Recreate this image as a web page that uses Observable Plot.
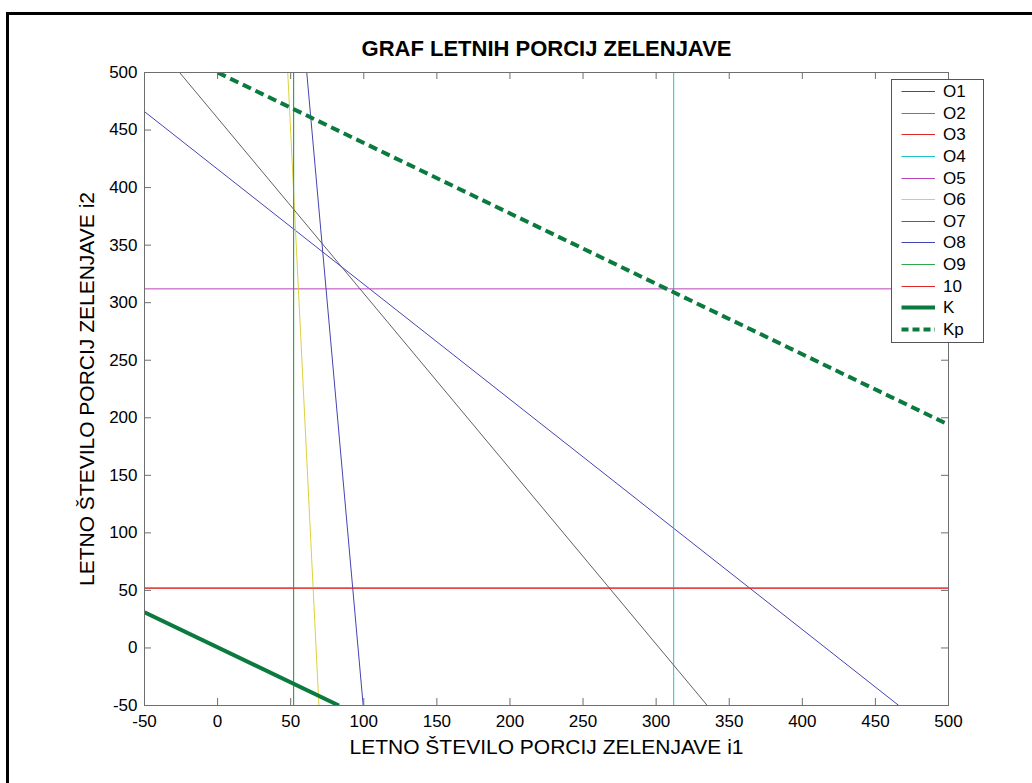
<!DOCTYPE html>
<html>
<head>
<meta charset="utf-8">
<script src="https://cdn.jsdelivr.net/npm/d3@7"></script>
<script src="https://cdn.jsdelivr.net/npm/@observablehq/plot@0.6"></script>
<style>
  html, body { margin: 0; padding: 0; background: white; overflow: hidden; }
  #wrap { position: relative; width: 1032px; height: 783px; }
  #frame { position: absolute; left: 6px; top: 12px; width: 1100px; height: 900px;
           border-top: 3px solid #000; border-left: 3px solid #000; pointer-events: none; }
  #legend { position: absolute; left: 891px; top: 79px; width: 91px; height: 262px;
            background: white; border: 1px solid #555; font-family: "Liberation Sans", Arial, sans-serif;
            font-size: 17px; color: #000; }
  .lrow { position: absolute; left: 0; height: 20px; width: 91px; }
  .lrow svg { position: absolute; left: 9px; top: 0; }
  .lrow span { position: absolute; left: 51px; top: 0; line-height: 21px; }
</style>
</head>
<body>
<div id="wrap">
  <div id="chart"></div>
  <div id="frame"></div>
  <div id="legend"></div>
</div>
<script>
// ---- data ----
const titleText = "GRAF LETNIH PORCIJ ZELENJAVE";
const xLabelText = "LETNO ŠTEVILO PORCIJ ZELENJAVE i1";
const yLabelText = "LETNO ŠTEVILO PORCIJ ZELENJAVE i2";

const lineNames = ["O1", "O2", "O3", "O4", "O5", "O6", "O7", "O8", "O9", "10", "K", "Kp"];
// each line given by two points (i1, i2)
const startI1 = [-50,  52, -50, 312, -50,  48, -26,  61,  52, -50, -50,   0];
const startI2 = [466, -50,  52, -50, 312, 500, 500, 500, -50,  52,  31, 500];
const endI1   = [466,  52, 500, 312, 500, 69.3, 335, 99.6, 52, 500,  83, 500];
const endI2   = [-50, 500,  52, 500, 312, -50, -50, -50, 500,  52, -50, 194];

const lineColors = ["#4444b4", "#2fa64a", "#e02828", "#1cc4cc", "#bb44bb", "#dcd23c",
                    "#606060", "#4444b4", "#2fa64a", "#e02828", "#0b7a3e", "#0b7a3e"];

const xTicks = [-50, 0, 50, 100, 150, 200, 250, 300, 350, 400, 450, 500];
const yTicks = [-50, 0, 50, 100, 150, 200, 250, 300, 350, 400, 450, 500];

// ---- build table ----
const rows = lineNames.map((name, i) => ({
  name, a1: startI1[i], b1: startI2[i], a2: endI1[i], b2: endI2[i], color: lineColors[i]
}));
const thin = rows.filter(d => d.name !== "K" && d.name !== "Kp");
const kRow = rows.filter(d => d.name === "K");
const kpRow = rows.filter(d => d.name === "Kp");

const W = 1032, H = 783;
const mL = 144, mR = 84, mT = 72, mB = 78;
const innerW = W - mL - mR, innerH = H - mT - mB;
const tick = 7;
const axisColor = "#6f6f6f";

const chart = Plot.plot({
  width: W,
  height: H,
  marginLeft: mL, marginRight: mR, marginTop: mT, marginBottom: mB,
  style: { fontFamily: "'Liberation Sans', Arial, sans-serif", fontSize: "17px", background: "white", color: "#000" },
  x: { domain: [-50, 500], label: null },
  y: { domain: [-50, 500], label: null },
  color: { type: "identity" },
  marks: [
    Plot.link(thin, { x1: "a1", y1: "b1", x2: "a2", y2: "b2", stroke: "color", strokeWidth: 1, clip: true }),
    Plot.link(kRow, { x1: "a1", y1: "b1", x2: "a2", y2: "b2", stroke: "color", strokeWidth: 4, clip: true }),
    Plot.link(kpRow, { x1: "a1", y1: "b1", x2: "a2", y2: "b2", stroke: "color", strokeWidth: 4, strokeDasharray: "9,5", clip: true }),
    Plot.frame({ stroke: axisColor, strokeWidth: 1 }),
    Plot.ruleX(xTicks, { stroke: axisColor, insetTop: innerH - tick }),
    Plot.ruleX(xTicks, { stroke: axisColor, insetBottom: innerH - tick }),
    Plot.ruleY(yTicks, { stroke: axisColor, insetRight: innerW - tick }),
    Plot.ruleY(yTicks, { stroke: axisColor, insetLeft: innerW - tick }),
    Plot.axisX(xTicks, { anchor: "bottom", tickSize: 0, tickPadding: 9, tickFormat: d => String(d), label: null, fill: "#000", fontSize: 17 }),
    Plot.axisY(yTicks, { anchor: "left", tickSize: 0, tickPadding: 7, tickFormat: d => String(d), label: null, fill: "#000", fontSize: 17 }),
    Plot.text([titleText], { text: d => d, frameAnchor: "top", dy: -24, lineAnchor: "middle", textAnchor: "middle", fontWeight: "bold", fontSize: 22, fill: "#000" }),
    Plot.text([xLabelText], { text: d => d, frameAnchor: "bottom", dy: 42, lineAnchor: "middle", textAnchor: "middle", fontSize: 21, fill: "#000" }),
    Plot.text([yLabelText], { text: d => d, frameAnchor: "left", dx: -57, rotate: -90, lineAnchor: "middle", textAnchor: "middle", fontSize: 21, fill: "#000" })
  ]
});
document.getElementById("chart").appendChild(chart);

// ---- legend ----
const legend = d3.select("#legend");
rows.forEach((d, i) => {
  const row = legend.append("div").attr("class", "lrow").style("top", (1.2 + i * 21.6) + "px");
  const svg = row.append("svg").attr("width", 36).attr("height", 21);
  const isK = d.name === "K" || d.name === "Kp";
  svg.append("line")
    .attr("x1", 0.5).attr("x2", 34).attr("y1", 10.5).attr("y2", 10.5)
    .attr("stroke", d.color)
    .attr("stroke-width", isK ? 4 : 1)
    .attr("stroke-dasharray", d.name === "Kp" ? "7,4" : null);
  row.append("span").text(d.name);
});
</script>
</body>
</html>
